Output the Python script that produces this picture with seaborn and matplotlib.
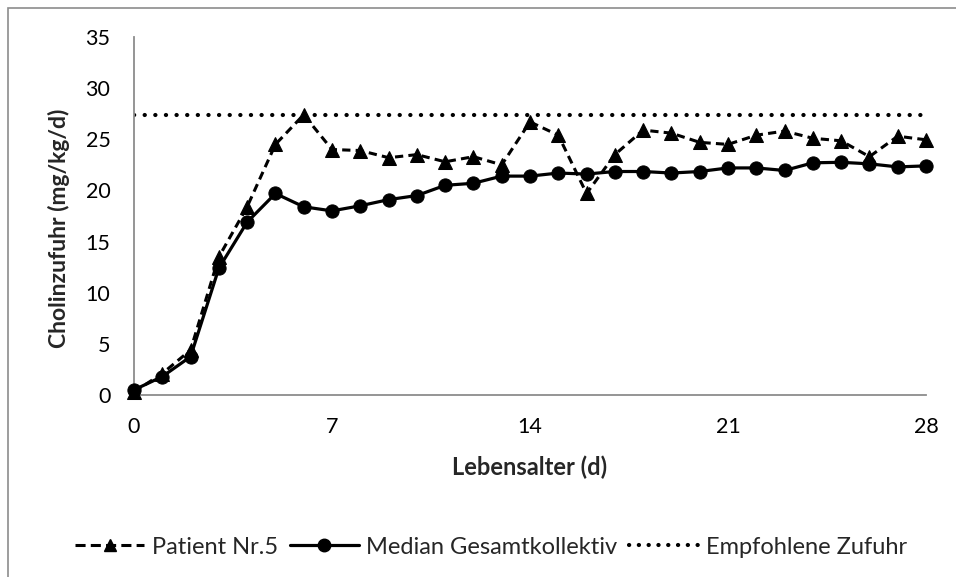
import matplotlib
matplotlib.use("Agg")
import matplotlib.pyplot as plt
import seaborn as sns
import pandas as pd
import numpy as np
from matplotlib.patches import Rectangle
from matplotlib.lines import Line2D

days = list(range(0, 29))
patient = [0.3, 2.1, 4.4, 13.5, 18.4, 24.5, 27.4, 24.0, 23.9, 23.2, 23.5, 22.8, 23.3, 22.5,
           26.7, 25.4, 19.7, 23.5, 25.9, 25.6, 24.7, 24.5, 25.4, 25.8, 25.1, 24.85, 23.3, 25.3, 24.95]
median = [0.5, 1.8, 3.75, 12.4, 16.9, 19.7, 18.4, 18.0, 18.5, 19.1, 19.5, 20.5, 20.7, 21.4,
          21.4, 21.7, 21.6, 21.85, 21.85, 21.7, 21.85, 22.2, 22.2, 21.95, 22.7, 22.75, 22.6, 22.3, 22.4]
recommended = 27.4
xtick_labels = [0, 7, 14, 21, 28]
ytick_labels = [0, 5, 10, 15, 20, 25, 30, 35]

sns.set_theme(style="white")
plt.rcParams['font.family'] = ['Lato', 'DejaVu Sans']

W, H = 956, 577
fig = plt.figure(figsize=(W / 100, H / 100), dpi=100)
ax = fig.add_axes([134 / W, 1 - 395 / H, (926 - 134) / W, (395 - 37) / H])

df = pd.DataFrame({"day": days, "patient": patient, "median": median})

sns.lineplot(data=df, x="day", y="patient", ax=ax, color="black", linewidth=2.2,
             linestyle=(0, (2.7, 1.7)), marker="^", markersize=9.5, markeredgecolor="black",
             clip_on=False, zorder=3)
sns.lineplot(data=df, x="day", y="median", ax=ax, color="black", linewidth=2.3,
             marker="o", markersize=9.5, markeredgecolor="black", clip_on=False, zorder=4)
ax.plot([0, 28], [recommended, recommended], color="black", linewidth=3.0,
        linestyle=(0, (0.05, 2.5)), dash_capstyle="round", zorder=2)

ax.set_xlim(0, 28)
ax.set_ylim(0, 35)
ax.set_xticks(xtick_labels)
ax.set_xticks(days, minor=True)
ax.set_yticks(ytick_labels)
ax.set_xticklabels([str(v) for v in xtick_labels])
ax.set_yticklabels([str(v) for v in ytick_labels])

for s in ["top", "right"]:
    ax.spines[s].set_visible(False)
for s in ["left", "bottom"]:
    ax.spines[s].set_color("#8c8c8c")
    ax.spines[s].set_linewidth(1.3)

ax.tick_params(axis="both", which="both", direction="out", color="#8c8c8c", width=1.3,
               labelsize=15.5, labelcolor="black")
ax.tick_params(axis="x", which="major", length=5, pad=11)
ax.tick_params(axis="x", which="minor", length=5)
ax.tick_params(axis="y", which="major", length=5, pad=12)

ax.set_xlabel("Lebensalter (d)", fontsize=17, fontweight="bold")
ax.set_ylabel("Cholinzufuhr (mg/kg/d)", fontsize=16.5, fontweight="bold")
ax.xaxis.set_label_coords(0.5, (395 - 456) / 358)
ax.yaxis.set_label_coords((70 - 134) / 792, (395 - 228) / 358)

handles = [
    Line2D([], [], color="black", linewidth=2.2, linestyle=(0, (3.3, 1.7)), marker="^", markersize=8),
    Line2D([], [], color="black", linewidth=2.3, marker="o", markersize=9),
    Line2D([], [], color="black", linewidth=3.0, linestyle=(0, (0.05, 2.3)), dash_capstyle="round"),
]
labels = ["Patient Nr.5", "Median Gesamtkollektiv", "Empfohlene Zufuhr"]
fig.legend(handles, labels, loc="center", bbox_to_anchor=(491 / W, 1 - 547 / H), ncol=3,
           frameon=False, fontsize=17, handlelength=2.95, handletextpad=0.3,
           columnspacing=0.5, borderpad=0, borderaxespad=0)

fig.patches.append(Rectangle((8 / W, -0.1), 1.2, 1 - 8 / H + 0.1, transform=fig.transFigure,
                             fill=False, edgecolor="#8c8c8c", linewidth=1.2))

fig.savefig("out.png", dpi=100)
